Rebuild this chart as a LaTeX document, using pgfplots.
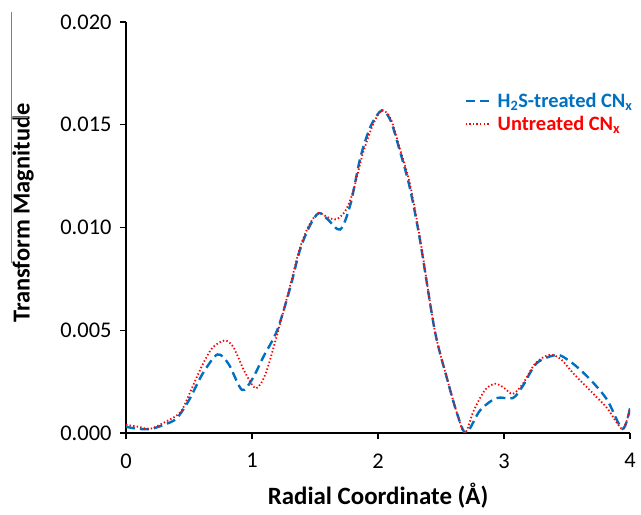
\documentclass[border=0pt]{standalone}
\usepackage{pgfplots}
\pgfplotsset{compat=1.18}
\usepackage{fontspec}
\setmainfont{Carlito}
\definecolor{h2sblue}{RGB}{0,112,192}
\definecolor{untred}{RGB}{255,0,0}

\begin{document}
\begin{tikzpicture}[x=1bp,y=1bp]
\useasboundingbox (-126,-82) rectangle (515,433);
\begin{axis}[
scale only axis,
width=504bp,height=411bp,
at={(0,0)},anchor=south west,
xmin=0,xmax=4,ymin=0,ymax=0.020,
axis x line=bottom,axis y line=left,
axis line style={-,line width=1.3bp},
tick style={black,line width=1.3bp},
tick align=outside,
major tick length=6bp,
xtick={0,1,2,3,4},
ytick={0,0.005,0.010,0.015,0.020},
scaled y ticks=false,
/pgf/number format/assume math mode=true,
yticklabel style={/pgf/number format/fixed,/pgf/number format/fixed zerofill,
  /pgf/number format/precision=3,xshift=-5bp},
ticklabel style={font=\fontsize{22.5}{26}\selectfont},
xticklabel style={yshift=-11bp},
label style={font=\fontsize{25}{29}\selectfont\bfseries},
xlabel={Radial Coordinate (Å)},
ylabel={Transform Magnitude},
xlabel style={at={(axis description cs:0.5,-0.152)},anchor=center},
ylabel style={at={(axis description cs:-0.204,0.535)},anchor=center,
  font=\fontsize{24.5}{28}\selectfont\bfseries},
legend style={at={(0.665,0.835)},anchor=north west,draw=none,fill=none,
  font=\fontsize{20.5}{23}\selectfont\bfseries,row sep=5bp,
  nodes={inner ysep=1bp}},
legend cell align=left,
legend image code/.code={\draw[#1] (0bp,0bp) -- (25bp,0bp);},
]
\addplot[h2sblue,line width=2.4bp,dash pattern=on 9bp off 5bp,smooth] coordinates {
(0.00,0.0003)(0.10,0.0002)(0.20,0.0002)(0.30,0.0004)(0.40,0.0007)
(0.50,0.0016)(0.60,0.0028)(0.70,0.0037)(0.75,0.0038)(0.82,0.0033)
(0.92,0.0021)(1.00,0.0026)(1.09,0.0037)(1.20,0.0050)(1.30,0.0070)
(1.38,0.0089)(1.46,0.0101)(1.53,0.0107)(1.60,0.0104)(1.70,0.0099)
(1.78,0.0111)(1.86,0.0134)(1.94,0.0149)(2.03,0.0157)(2.10,0.0152)
(2.17,0.0138)(2.25,0.0120)(2.33,0.0095)(2.45,0.0050)(2.55,0.0026)
(2.63,0.0009)(2.70,0.0000)(2.81,0.0011)(2.94,0.0017)(3.07,0.0017)
(3.15,0.0023)(3.26,0.0034)(3.42,0.0038)(3.52,0.0035)(3.60,0.0031)
(3.70,0.0025)(3.82,0.0016)(3.94,0.0002)(4.00,0.0012)};
\addplot[untred,line width=1.8bp,dash pattern=on 1.4bp off 2.2bp,smooth] coordinates {
(0.00,0.0004)(0.10,0.0003)(0.19,0.0002)(0.30,0.0005)(0.43,0.0010)
(0.51,0.0020)(0.59,0.0031)(0.68,0.0041)(0.78,0.0045)(0.85,0.0042)
(0.94,0.0030)(1.02,0.0022)(1.07,0.0024)(1.12,0.0031)(1.20,0.0048)
(1.30,0.0071)(1.38,0.0090)(1.46,0.0102)(1.53,0.0107)(1.60,0.0105)
(1.67,0.0104)(1.74,0.0108)(1.80,0.0117)(1.88,0.0136)(1.96,0.0150)
(2.03,0.0157)(2.10,0.0153)(2.17,0.0139)(2.25,0.0122)(2.33,0.0096)
(2.45,0.0050)(2.55,0.0026)(2.63,0.0009)(2.69,0.0000)(2.76,0.0011)
(2.85,0.0021)(2.93,0.0024)(3.00,0.0022)(3.07,0.0019)(3.15,0.0024)
(3.25,0.0034)(3.36,0.0038)(3.45,0.0036)(3.55,0.0029)(3.71,0.0019)
(3.82,0.0012)(3.94,0.0002)(4.00,0.0012)};
\legend{\hspace{4bp}\textcolor{h2sblue}{H\textsubscript{2}S-treated CN\textsubscript{x}},
        \hspace{4bp}\textcolor{untred}{Untreated CN\textsubscript{x}}}
\end{axis}
% stray rule beside the y label, as in the source image
\draw[gray,line width=0.8bp] (-115,421) -- (-115,170);
\draw[gray,line width=0.8bp] (-115,316) -- (-98,316);
\end{tikzpicture}
\end{document}
